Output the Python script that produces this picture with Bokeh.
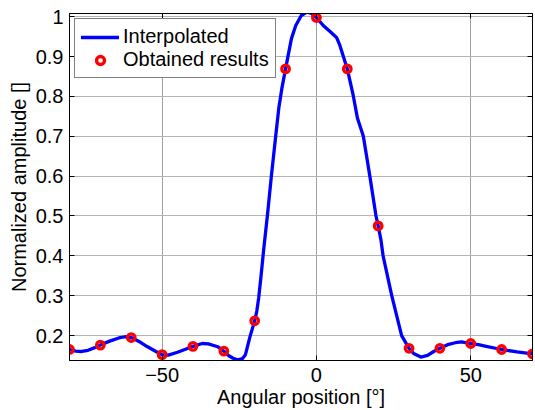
from bokeh.plotting import figure
from bokeh.models import (Range1d, FixedTicker, LinearAxis, Legend, LegendItem,
                          CustomJSTickFormatter)
from bokeh.embed import file_html
from bokeh.resources import INLINE

# Measured amplitudes at each angular position
angle_deg = [-80, -70, -60, -50, -40, -30, -20, -10, 0, 10, 20, 30, 40, 50, 60, 70]
amplitude = [0.165, 0.176, 0.195, 0.152, 0.173, 0.161, 0.237, 0.869, 0.998,
             0.869, 0.475, 0.168, 0.168, 0.180, 0.165, 0.154]

# Interpolated pattern (dense trace)
interp_deg = [-80, -78, -76, -74, -72, -70, -67, -64, -62, -60, -57, -55, -52, -50,
              -48, -45, -42, -40, -37, -35, -32, -30, -28.5, -27, -25.5, -24, -23,
              -21.5, -20, -19.3, -18.7, -18, -17.1, -15.9, -14.6, -13.2, -12.2,
              -11.2, -10, -8.1, -6.7, -4.9, -3, -1.6, 0, 2.2, 4.5, 6.5, 7.6, 10,
              11.9, 13.3, 15.2, 17.3, 19.3, 20, 20.9, 21.6, 24.4, 27.6, 30, 31.5,
              33.8, 36, 38, 40, 42.5, 45, 47, 50, 52.5, 55, 60, 65, 70]
interp_amp = [0.165, 0.161, 0.160, 0.163, 0.169, 0.176, 0.186, 0.194, 0.197, 0.195,
              0.183, 0.173, 0.160, 0.152, 0.151, 0.158, 0.167, 0.173, 0.180, 0.179,
              0.172, 0.161, 0.150, 0.143, 0.139, 0.142, 0.152, 0.198, 0.237, 0.262,
              0.295, 0.345, 0.415, 0.50, 0.60, 0.70, 0.77, 0.82, 0.869, 0.945,
              0.978, 1.003, 1.012, 1.008, 0.998, 0.978, 0.962, 0.948, 0.928, 0.869,
              0.803, 0.745, 0.70, 0.60, 0.50, 0.475, 0.44, 0.40, 0.30, 0.20, 0.168,
              0.155, 0.146, 0.150, 0.160, 0.168, 0.177, 0.182, 0.184, 0.180, 0.177,
              0.173, 0.165, 0.159, 0.154]

x_ticks = [-50, 0, 50]
y_ticks = [0.2, 0.3, 0.4, 0.5, 0.6, 0.7, 0.8, 0.9, 1.0]

FONT = "Liberation Sans"
FS = "20px"

p = figure(width=535, height=410, output_backend="svg", toolbar_location=None,
           x_range=Range1d(-80, 70), y_range=Range1d(0.1374, 1.008),
           min_border_left=69, min_border_right=3, min_border_top=13,
           min_border_bottom=49)
p.background_fill_color = "white"
p.border_fill_color = "white"
p.outline_line_color = "black"
p.outline_line_width = 1

# grid
p.xgrid.ticker = FixedTicker(ticks=x_ticks)
p.ygrid.ticker = FixedTicker(ticks=y_ticks)
p.xgrid.grid_line_color = "#a0a0a0"
p.ygrid.grid_line_color = "#b4b4b4"
p.xgrid.grid_line_width = 1
p.ygrid.grid_line_width = 1

y_fmt = CustomJSTickFormatter(code="return tick > 0.999 ? '1' : tick.toFixed(1);")
blank = CustomJSTickFormatter(code="return '';")


def style_axis(ax):
    ax.axis_line_color = "black"
    ax.major_tick_in = 5
    ax.major_tick_out = 0
    ax.minor_tick_line_color = None
    ax.major_tick_line_color = "black"
    ax.major_label_text_font = FONT
    ax.major_label_text_font_size = FS
    ax.major_label_text_color = "black"
    ax.axis_label_text_font = FONT
    ax.axis_label_text_font_size = FS
    ax.axis_label_text_font_style = "normal"
    ax.axis_label_text_color = "black"


xa = p.xaxis[0]
style_axis(xa)
xa.ticker = FixedTicker(ticks=x_ticks)
xa.axis_label = "Angular position [°]"
xa.major_label_standoff = 7
xa.axis_label_standoff = 1

ya = p.yaxis[0]
style_axis(ya)
ya.ticker = FixedTicker(ticks=y_ticks)
ya.formatter = y_fmt
ya.axis_label = "Normalized amplitude []"
ya.major_label_standoff = 6
ya.axis_label_standoff = 3

top_ax = LinearAxis(ticker=FixedTicker(ticks=x_ticks), formatter=blank)
right_ax = LinearAxis(ticker=FixedTicker(ticks=y_ticks), formatter=blank)
for ax in (top_ax, right_ax):
    style_axis(ax)
    ax.major_label_standoff = 0
p.add_layout(top_ax, "above")
p.add_layout(right_ax, "right")

line_r = p.line(interp_deg, interp_amp, line_color="#0000ff", line_width=3.3,
                line_join="round", line_cap="round")
pts_r = p.scatter(angle_deg, amplitude, marker="circle", size=7.5,
                  fill_alpha=0, line_color="#ff0000", line_width=3.3)

legend = Legend(items=[LegendItem(label="Interpolated", renderers=[line_r]),
                       LegendItem(label="Obtained results", renderers=[pts_r])],
                location="top_left")
legend.margin = 5
legend.padding = 6
legend.spacing = 0
legend.glyph_width = 38
legend.label_standoff = 4
legend.label_text_font = FONT
legend.label_text_font_size = FS
legend.label_text_color = "black"
legend.border_line_color = "black"
legend.border_line_width = 1
legend.background_fill_color = "white"
legend.background_fill_alpha = 1
p.add_layout(legend, "center")

open("out.html", "w").write(file_html(p, INLINE))
